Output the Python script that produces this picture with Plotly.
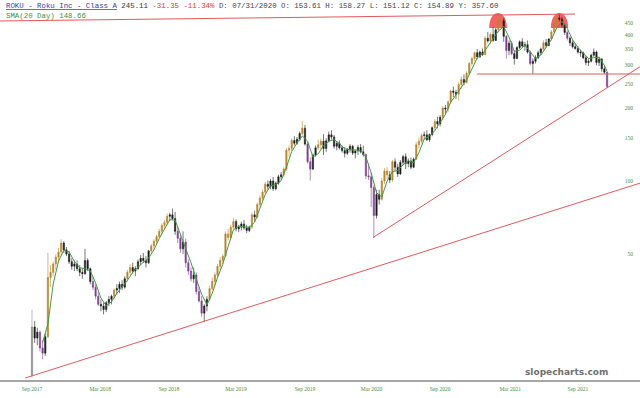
import pandas as pd
import plotly.graph_objects as go

# ---------------- data (weekly candles) ----------------
first_week = pd.Timestamp("2017-09-29")

opens = [
    15.8, 25.0, 22.5, 23.8, 20.5, 19.5, 22.8, 40.0, 42.0, 45.5,
    48.5, 51.0, 55.5, 52.0, 50.0, 46.5, 44.5, 45.5, 43.5, 42.0,
    41.5, 47.0, 43.5, 38.5, 36.5, 33.5, 31.0, 30.5, 29.5, 31.5,
    32.5, 33.5, 35.5, 36.0, 37.5, 36.5, 39.5, 42.0, 44.0, 42.5,
    43.5, 46.5, 48.0, 47.0, 46.0, 51.5, 54.0, 56.5, 59.0, 62.0,
    65.5, 67.5, 71.5, 72.5, 70.0, 62.0, 58.0, 52.5, 56.0, 46.0,
    42.5, 39.5, 41.0, 35.0, 32.0, 28.5, 30.5, 32.5, 36.0, 38.5,
    41.0, 44.5, 47.0, 49.0, 60.5, 58.5, 64.5, 68.0, 63.5, 64.5,
    66.5, 64.0, 62.5, 64.5, 72.5, 71.0, 80.0, 85.0, 90.0, 97.0,
    95.0, 100.0, 93.0, 98.0, 104.0, 106.0, 112.0, 134.0, 136.0, 147.0,
    143.0, 148.5, 157.0, 165.0, 142.0, 120.0, 112.0, 128.0, 137.0, 141.0,
    146.0, 136.0, 146.5, 155.0, 152.0, 139.0, 143.0, 137.0, 133.5, 130.0,
    135.0, 139.0, 130.5, 133.0, 137.5, 132.0, 128.5, 105.0, 104.0, 94.0,
    72.0, 88.0, 84.0, 100.0, 110.0, 106.0, 101.0, 120.0, 114.0, 107.0,
    119.5, 126.0, 118.0, 121.0, 114.0, 123.0, 141.0, 146.0, 154.0, 155.0,
    148.0, 155.5, 166.0, 176.0, 172.0, 183.0, 200.0, 198.0, 212.0, 235.0,
    232.0, 228.0, 250.0, 262.0, 255.0, 278.0, 305.0, 320.0, 338.0, 325.0,
    340.0, 332.0, 388.0, 378.0, 402.0, 380.0, 420.0, 460.0, 458.0, 395.0,
    345.0, 370.0, 335.0, 320.0, 355.0, 375.0, 360.0, 365.0, 340.0, 305.0,
    312.0, 322.0, 338.0, 350.0, 372.0, 362.0, 385.0, 412.0, 445.0, 470.0,
    465.0, 440.0, 410.0, 388.0, 372.0, 358.0, 352.0, 340.0, 338.0, 322.0,
    308.0, 312.0, 330.0, 340.0, 308.0, 318.0, 290.0, 281.0,
]

highs = [
    29.5, 26.5, 24.8, 24.2, 22.0, 23.5, 50.5, 45.0, 46.5, 50.0,
    53.0, 57.5, 56.5, 53.5, 51.5, 48.0, 47.0, 47.0, 45.0, 43.5,
    52.5, 48.0, 44.0, 40.5, 37.5, 35.0, 32.5, 31.5, 32.0, 33.5,
    34.0, 36.0, 37.5, 38.5, 39.0, 40.5, 43.0, 45.5, 46.0, 44.5,
    47.5, 49.5, 50.5, 49.0, 52.0, 55.0, 57.5, 60.0, 63.5, 67.0,
    69.0, 73.5, 74.0, 77.0, 74.5, 65.0, 60.0, 62.0, 58.0, 47.5,
    44.0, 44.0, 42.0, 36.5, 33.5, 31.0, 33.5, 37.0, 40.0, 42.0,
    45.5, 48.5, 50.0, 62.0, 63.5, 66.0, 70.5, 69.5, 66.0, 68.0,
    69.0, 66.0, 65.5, 74.0, 75.5, 81.5, 87.0, 92.0, 99.0, 100.5,
    102.0, 104.0, 99.5, 106.0, 109.0, 114.0, 137.0, 140.0, 150.0, 153.0,
    152.0, 160.0, 176.5, 170.0, 145.0, 125.0, 130.0, 140.0, 148.0, 150.0,
    156.0, 150.0, 160.0, 162.0, 155.0, 146.0, 147.0, 140.0, 138.0, 137.0,
    142.0, 141.0, 134.0, 141.0, 142.0, 140.0, 130.0, 118.0, 108.0, 96.0,
    92.0, 92.0, 103.0, 113.0, 114.0, 110.0, 122.0, 124.0, 118.0, 122.0,
    128.0, 130.0, 124.0, 125.0, 125.0, 145.0, 151.0, 157.0, 160.0, 162.0,
    157.0, 168.0, 180.0, 184.0, 187.0, 203.0, 206.0, 215.0, 238.0, 245.0,
    238.0, 255.0, 270.0, 275.0, 283.0, 310.0, 326.0, 342.0, 350.0, 345.0,
    352.0, 395.0, 412.0, 410.0, 430.0, 428.0, 470.0, 486.7, 470.0, 400.0,
    380.0, 378.0, 345.0, 360.0, 380.0, 388.0, 375.0, 380.0, 345.0, 320.0,
    330.0, 345.0, 355.0, 380.0, 385.0, 388.0, 420.0, 450.0, 488.0, 490.8,
    475.0, 445.0, 418.0, 395.0, 380.0, 370.0, 360.0, 348.0, 342.0, 328.0,
    318.0, 335.0, 352.0, 345.0, 325.0, 322.0, 300.0, 283.0,
]

lows = [
    15.5, 21.5, 21.0, 19.8, 18.4, 19.0, 22.5, 36.5, 40.5, 43.0,
    46.0, 49.5, 50.5, 49.0, 45.5, 43.0, 42.5, 42.5, 40.5, 39.5,
    41.0, 42.5, 37.5, 35.5, 32.5, 30.5, 29.0, 28.2, 28.8, 30.5,
    31.0, 32.5, 34.0, 34.5, 35.5, 36.0, 38.5, 41.0, 41.5, 40.5,
    43.0, 45.0, 46.0, 44.0, 45.5, 50.0, 52.0, 55.0, 58.0, 60.5,
    63.0, 66.0, 68.5, 69.0, 60.0, 55.5, 50.5, 50.0, 44.0, 41.0,
    38.5, 38.0, 34.0, 31.5, 27.5, 26.2, 29.0, 32.0, 35.5, 37.0,
    40.0, 43.0, 45.5, 48.5, 57.0, 57.5, 63.0, 62.0, 61.5, 62.5,
    63.0, 61.0, 61.5, 63.5, 68.0, 70.0, 78.0, 83.0, 88.5, 92.0,
    92.5, 91.0, 91.5, 96.5, 101.0, 104.0, 110.0, 126.0, 133.0, 140.0,
    141.0, 146.0, 155.0, 140.0, 118.0, 100.5, 111.0, 126.0, 134.0, 135.0,
    128.0, 132.0, 144.0, 148.0, 136.0, 134.0, 135.0, 131.0, 125.0, 128.0,
    131.0, 128.0, 124.0, 128.0, 130.0, 126.0, 102.0, 101.0, 78.0, 58.2,
    70.0, 80.0, 83.0, 97.0, 102.0, 98.0, 99.0, 110.0, 104.0, 106.0,
    116.0, 112.0, 114.0, 112.0, 113.0, 122.0, 136.0, 143.0, 148.0, 146.0,
    145.0, 153.0, 162.0, 165.0, 168.0, 178.0, 188.0, 192.0, 208.0, 222.0,
    218.0, 215.0, 240.0, 248.0, 252.0, 275.0, 298.0, 312.0, 318.0, 322.0,
    328.0, 330.0, 372.0, 368.0, 375.0, 378.0, 410.0, 445.0, 375.0, 320.0,
    330.0, 330.0, 302.0, 318.0, 350.0, 355.0, 345.0, 335.0, 300.0, 276.0,
    305.0, 318.0, 330.0, 345.0, 355.0, 360.0, 380.0, 405.0, 440.0, 455.0,
    430.0, 400.0, 380.0, 360.0, 352.0, 348.0, 335.0, 325.0, 318.0, 300.0,
    298.0, 308.0, 325.0, 300.0, 298.0, 282.0, 276.0, 242.0,
]

closes = [
    25.0, 22.5, 23.8, 20.5, 19.5, 22.8, 40.0, 42.0, 45.5, 48.5,
    51.0, 55.5, 52.0, 50.0, 46.5, 44.5, 45.5, 43.5, 42.0, 41.5,
    47.0, 43.5, 38.5, 36.5, 33.5, 31.0, 30.5, 29.5, 31.5, 32.5,
    33.5, 35.5, 36.0, 37.5, 36.5, 39.5, 42.0, 44.0, 42.5, 43.5,
    46.5, 48.0, 47.0, 46.0, 51.5, 54.0, 56.5, 59.0, 62.0, 65.5,
    67.5, 71.5, 72.5, 70.0, 62.0, 58.0, 52.5, 56.0, 46.0, 42.5,
    39.5, 41.0, 35.0, 32.0, 28.5, 30.5, 32.5, 36.0, 38.5, 41.0,
    44.5, 47.0, 49.0, 60.5, 58.5, 64.5, 68.0, 63.5, 64.5, 66.5,
    64.0, 62.5, 64.5, 72.5, 71.0, 80.0, 85.0, 90.0, 97.0, 95.0,
    100.0, 93.0, 98.0, 104.0, 106.0, 112.0, 134.0, 136.0, 147.0, 143.0,
    148.5, 157.0, 165.0, 142.0, 120.0, 112.0, 128.0, 137.0, 141.0, 146.0,
    136.0, 146.5, 155.0, 152.0, 139.0, 143.0, 137.0, 133.5, 130.0, 135.0,
    139.0, 130.5, 133.0, 137.5, 132.0, 128.5, 105.0, 104.0, 94.0, 72.0,
    88.0, 84.0, 100.0, 110.0, 106.0, 101.0, 120.0, 114.0, 107.0, 119.5,
    126.0, 118.0, 121.0, 114.0, 123.0, 141.0, 146.0, 154.0, 155.0, 148.0,
    155.5, 166.0, 176.0, 172.0, 183.0, 200.0, 198.0, 212.0, 235.0, 232.0,
    228.0, 250.0, 262.0, 255.0, 278.0, 305.0, 320.0, 338.0, 325.0, 340.0,
    332.0, 388.0, 378.0, 402.0, 380.0, 420.0, 460.0, 458.0, 395.0, 345.0,
    370.0, 335.0, 320.0, 355.0, 375.0, 360.0, 365.0, 340.0, 305.0, 312.0,
    322.0, 338.0, 350.0, 372.0, 362.0, 385.0, 412.0, 445.0, 470.0, 465.0,
    440.0, 410.0, 388.0, 372.0, 358.0, 352.0, 340.0, 338.0, 322.0, 308.0,
    312.0, 330.0, 340.0, 308.0, 318.0, 290.0, 281.0, 245.11,
]

# SMA(20 Day) read every second week, starting at week 4, plus the last week
sma_values = [
    21.6, 25.7, 37.6, 46.75, 51.75, 51.0, 46.6, 43.9, 43.5, 42.6,
    38.0, 32.9, 30.6, 31.75, 34.4, 36.4, 38.9, 42.0, 44.1, 46.25,
    48.1, 52.0, 57.9, 63.5, 69.25, 69.0, 60.6, 53.1, 46.0, 39.5,
    34.1, 30.9, 34.4, 40.0, 45.4, 53.75, 62.9, 65.1, 64.6, 64.4,
    67.6, 77.1, 88.0, 95.5, 96.5, 100.25, 114.0, 132.25, 143.6, 153.4,
    146.0, 125.5, 129.5, 140.0, 145.9, 148.1, 142.75, 135.9, 134.4, 134.4,
    133.25, 125.75, 107.9, 89.5, 86.0, 100.0, 109.25, 110.5, 116.6, 121.1,
    119.0, 131.0, 149.0, 153.1, 161.4, 174.25, 188.25, 211.25, 226.75, 243.0,
    261.25, 289.5, 322.0, 333.75, 359.5, 387.0, 415.5, 433.25, 392.0, 342.5,
    346.25, 363.75, 342.5, 319.75, 330.5, 355.5, 382.75, 428.0, 455.0, 425.75,
    382.0, 355.5, 338.0, 320.0, 322.5, 324.0, 299.25, 283.5,
]
sma_weeks = list(range(4, 217, 2)) + [217]

x_tick_dates = ["2017-09-29", "2018-03-28", "2018-09-26", "2019-03-22", "2019-09-20",
                "2020-03-14", "2020-09-11", "2021-03-15", "2021-09-10"]
x_tick_labels = ["Sep 2017", "Mar 2018", "Sep 2018", "Mar 2019", "Sep 2019",
                 "Mar 2020", "Sep 2020", "Mar 2021", "Sep 2021"]
y_tick_values = [50, 100, 150, 200, 250, 300, 350, 400, 450]

# drawn trend lines (week index, price)
trend_x0 = [-12.1, 128.7, -2.6, 167.9]
trend_y0 = [457.0, 58.5, 15.4, 276.2]
trend_x1 = [204.9, 229.43, 229.43, 229.43]
trend_y1 = [488.0, 296.0, 98.0, 276.2]

# highlighted double-top areas (week index span)
top_spans = [(172.5, 179.2), (195.8, 202.3)]

assert len(opens) == len(highs) == len(lows) == len(closes)
assert len(sma_values) == len(sma_weeks)

weeks = list(range(len(closes)))
X_RANGE = [-12.08, 229.43]
Y_RANGE = [1.1794, 2.7464]

# ---------------- colour groups (styling rule) ----------------
COLORS = {"grey": "#8a8a8a", "dark": "#1c1c1c", "orange": "#b9842e", "purple": "#7d3f91"}
groups = {k: [] for k in COLORS}
for i, c in enumerate(closes):
    if i == 0:
        g = "grey"
    else:
        prev = closes[max(0, i - 4):i]
        ref = sum(prev) / len(prev)
        if c / ref > 1.10:
            g = "orange"
        elif c / ref < 0.87:
            g = "purple"
        else:
            g = "dark"
    groups[g].append(i)

fig = go.Figure()
for g, idx in groups.items():
    if not idx:
        continue
    col = COLORS[g]
    fig.add_trace(go.Candlestick(
        x=[weeks[i] for i in idx],
        open=[opens[i] for i in idx],
        high=[highs[i] for i in idx],
        low=[lows[i] for i in idx],
        close=[closes[i] for i in idx],
        increasing=dict(line=dict(color=col, width=0.6), fillcolor=col),
        decreasing=dict(line=dict(color=col, width=0.6), fillcolor=col),
        whiskerwidth=0, showlegend=False, hoverinfo="skip",
    ))

fig.add_trace(go.Scatter(x=sma_weeks, y=sma_values, mode="lines",
                         line=dict(color="#3f9b3f", width=1),
                         showlegend=False, hoverinfo="skip"))

for x0, y0, x1, y1 in zip(trend_x0, trend_y0, trend_x1, trend_y1):
    fig.add_trace(go.Scatter(x=[x0, x1], y=[y0, y1], mode="lines",
                             line=dict(color="#e25a5c", width=1),
                             showlegend=False, hoverinfo="skip", cliponaxis=True))

shapes = []
for a, b in top_spans:
    base, ctrl = 0.9263, 0.979
    shapes.append(dict(type="path", xref="x", yref="paper",
                       path=f"M {a},{base} C {a},{ctrl} {b},{ctrl} {b},{base} Z",
                       fillcolor="rgba(240,55,55,0.78)", line=dict(width=0), layer="below"))

title_html = (
    "<span style='color:#3a3aa8;text-decoration:underline'>ROKU - Roku Inc - Class A</span>"
    " <span style='color:#333333'>245.11</span>"
    " <span style='color:#e0393c'>-31.35 -11.34%</span>"
    " <span style='color:#444444'>D: 07/31/2020 O: 153.61 H: 158.27 L: 151.12 C: 154.89 Y: 357.60</span>"
    "<br><span style='color:#3f8f3f'>SMA(20 Day) 148.66</span>"
)

fig.update_layout(
    width=640, height=398,
    margin=dict(l=0, r=0, t=0, b=18),
    paper_bgcolor="white", plot_bgcolor="white",
    showlegend=False,
    shapes=shapes,
    xaxis=dict(
        range=X_RANGE, rangeslider=dict(visible=False),
        tickvals=[(pd.Timestamp(d) - first_week).days / 7 for d in x_tick_dates],
        ticktext=x_tick_labels, ticks="", showgrid=False, zeroline=False,
        showline=True, linecolor="#a6a6a6", linewidth=1.5,
        tickfont=dict(family="Liberation Serif", size=5.5, color="#3f8f3f"),
        ticklabelstandoff=3,
    ),
    yaxis=dict(
        type="log", range=Y_RANGE, side="right", ticklabelposition="inside",
        tickvals=y_tick_values, ticktext=[str(v) for v in y_tick_values],
        ticks="", showgrid=False, zeroline=False, showline=False,
        tickfont=dict(family="Liberation Serif", size=5.5, color="#3f8f3f"),
        ticklabelstandoff=4,
    ),
    annotations=[
        dict(text=title_html, xref="paper", yref="paper", x=0.006, y=1.0,
             xanchor="left", yanchor="top", align="left", showarrow=False,
             font=dict(family="Liberation Mono", size=7.4, color="#444444")),
        dict(text="<b>slopecharts.com</b>", xref="paper", yref="paper",
             x=566 / 640, y=(380 - 372) / 380, xanchor="center", yanchor="middle",
             showarrow=False, font=dict(family="DejaVu Sans", size=9, color="#707070")),
    ],
)

fig.write_html("out.html")
